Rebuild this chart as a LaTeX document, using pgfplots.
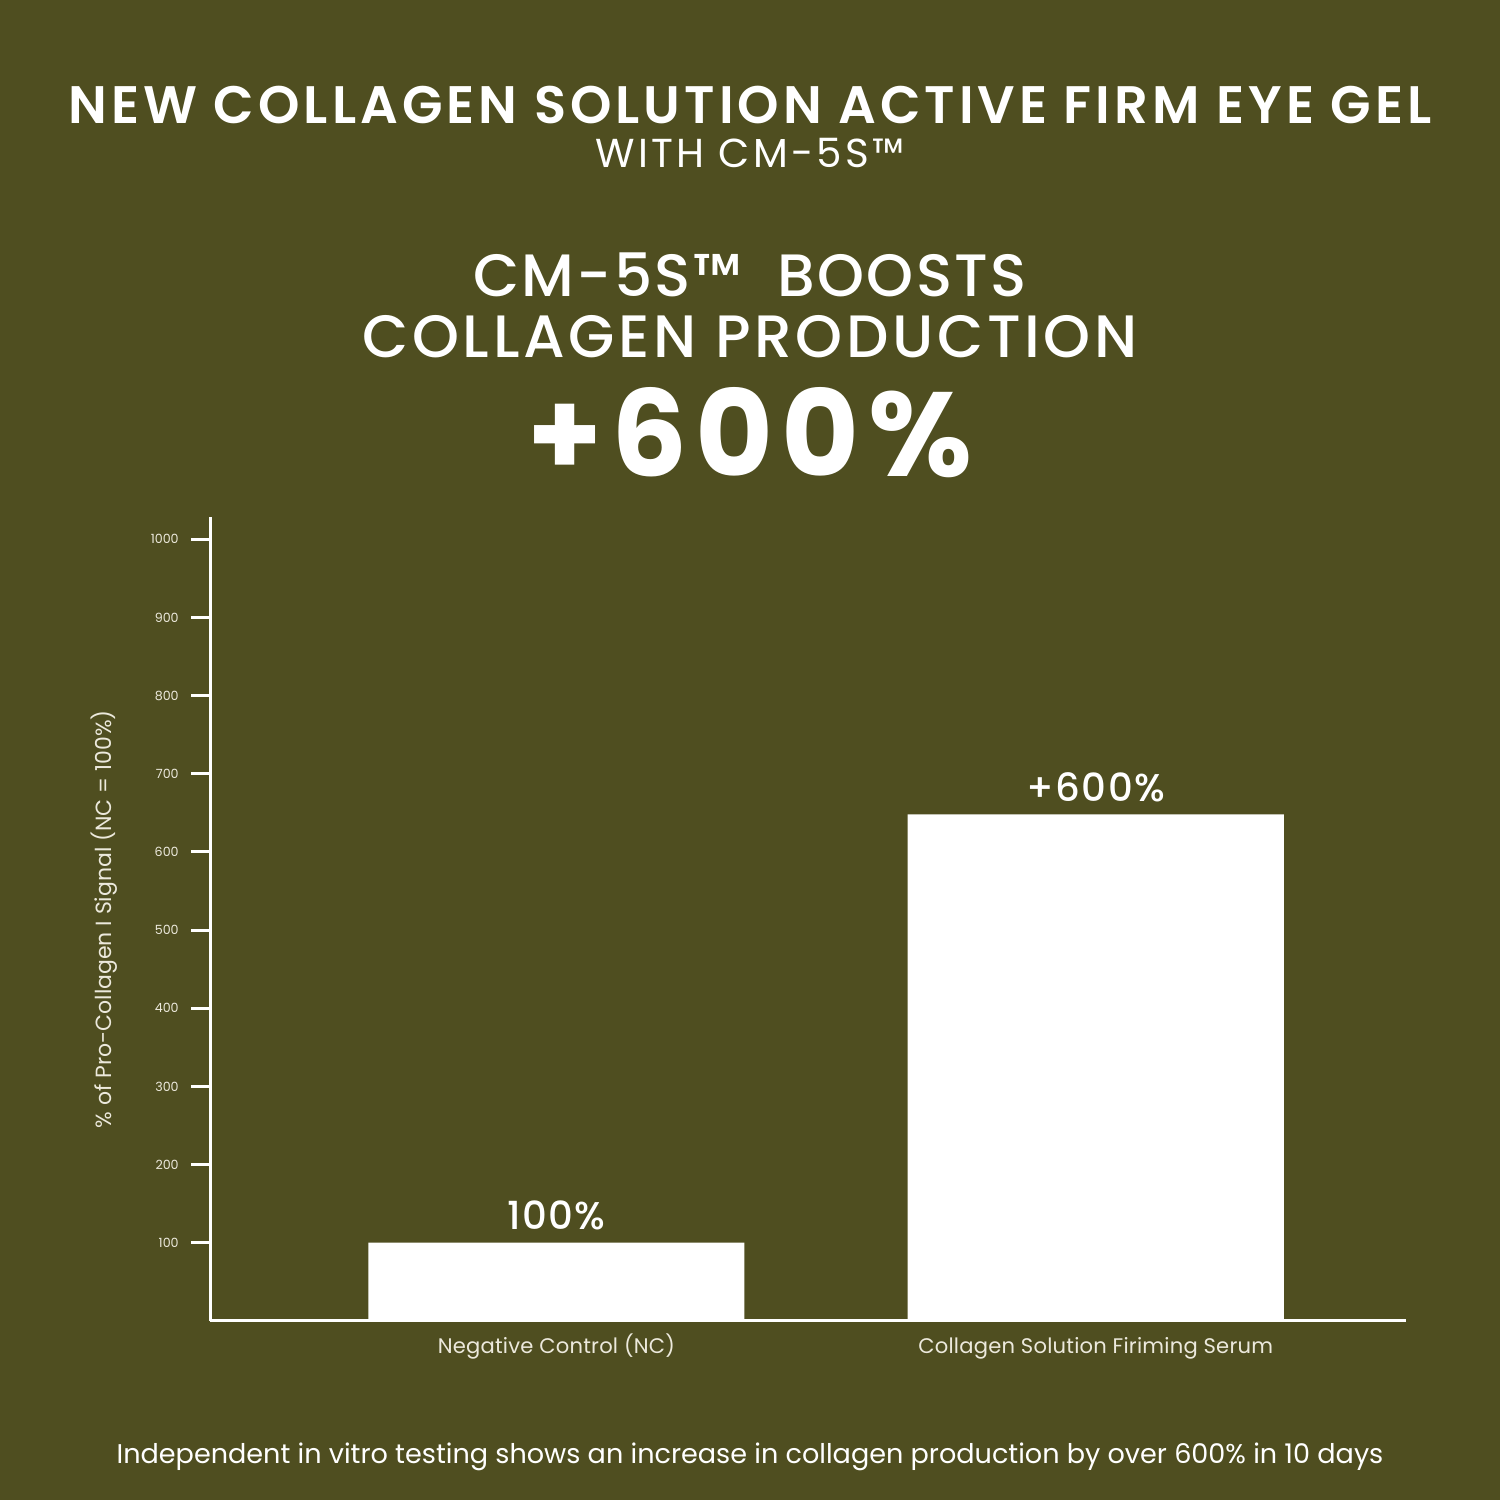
\documentclass[border=0pt]{standalone}
\usepackage{pgfplots}
\pgfplotsset{compat=1.18}
\usepackage{fontspec}
\setmainfont{Poppins}
\newfontfamily\popsemi{Poppins SemiBold}
\newfontfamily\popmed{Poppins Medium}
\definecolor{olivebg}{RGB}{79,78,32}
\definecolor{cream}{RGB}{236,233,220}
\begin{document}
\begin{tikzpicture}[x=0.01cm,y=0.01cm]
\fill[olivebg] (0,0) rectangle (1500,1500);
\useasboundingbox (0,0) rectangle (1500,1500);
% y positions given as 1500 - pixel row
\node[white,anchor=base,inner sep=0pt] at (750,1500-124) {\fontsize{15}{18}\selectfont\popsemi\addfontfeatures{LetterSpace=7.6} NEW COLLAGEN SOLUTION ACTIVE FIRM EYE GEL};
\node[white,anchor=base,inner sep=0pt] at (750,1500-168) {\fontsize{11.5}{13}\selectfont\addfontfeatures{LetterSpace=8} WITH CM-5S™};
\node[white,anchor=base,inner sep=0pt] at (750,1500-297) {\fontsize{17}{20}\selectfont\popmed\addfontfeatures{LetterSpace=4} CM-5S™\ \ BOOSTS};
\node[white,anchor=base,inner sep=0pt] at (750,1500-358) {\fontsize{17}{20}\selectfont\popmed\addfontfeatures{LetterSpace=6} COLLAGEN PRODUCTION};
\node[white,anchor=base,inner sep=0pt] at (750,1500-477) {\fontsize{34}{40}\selectfont\bfseries\addfontfeatures{LetterSpace=7} +600\%};
\node[white,anchor=base,inner sep=0pt] at (750,1500-1463) {\fontsize{7.7}{9}\selectfont Independent in vitro testing shows an increase in collagen production by over 600\% in 10 days};
\begin{axis}[
  at={(2.10cm,1.79cm)}, anchor=south west,
  scale only axis, width=11.95cm, height=8.03cm,
  ybar, bar width=3.76cm,
  xmin=-0.642, xmax=1.575, ymin=0, ymax=1028,
  axis lines=left,
  axis line style={-, white, line width=0.85pt},
  every outer x axis line/.append style={-},
  every outer y axis line/.append style={-},
  xtick={0,1}, xticklabels={Negative Control (NC), Collagen Solution Firiming Serum},
  x tick style={draw=none},
  x tick label style={font=\fontsize{6}{7}\selectfont\addfontfeatures{LetterSpace=1}, text=cream, anchor=base, yshift=-0.14cm},
  ytick={100,200,...,1000},
  y tick style={white, line width=0.85pt},
  tick align=outside, major tick length=0.19cm,
  y tick label style={font=\fontsize{3.6}{4}\selectfont, text=cream},
  /pgf/number format/assume math mode=true,
  /pgf/number format/1000 sep={},
  ylabel={\% of Pro-Collagen I Signal (NC = 100\%)},
  every axis y label/.style={at={(axis description cs:-0.0887,0.5)}, rotate=90, anchor=center, font=\fontsize{6.25}{7}\selectfont, text=cream},
  point meta=explicit symbolic,
  nodes near coords,
  every node near coord/.append style={font=\fontsize{11}{13}\selectfont\popmed\addfontfeatures{LetterSpace=4}, text=white, anchor=south, yshift=0.0cm},
]
\addplot[fill=white, draw=none] coordinates {(0,100) [100\%] (1,648) [+600\%]};
\end{axis}
\end{tikzpicture}
\end{document}
